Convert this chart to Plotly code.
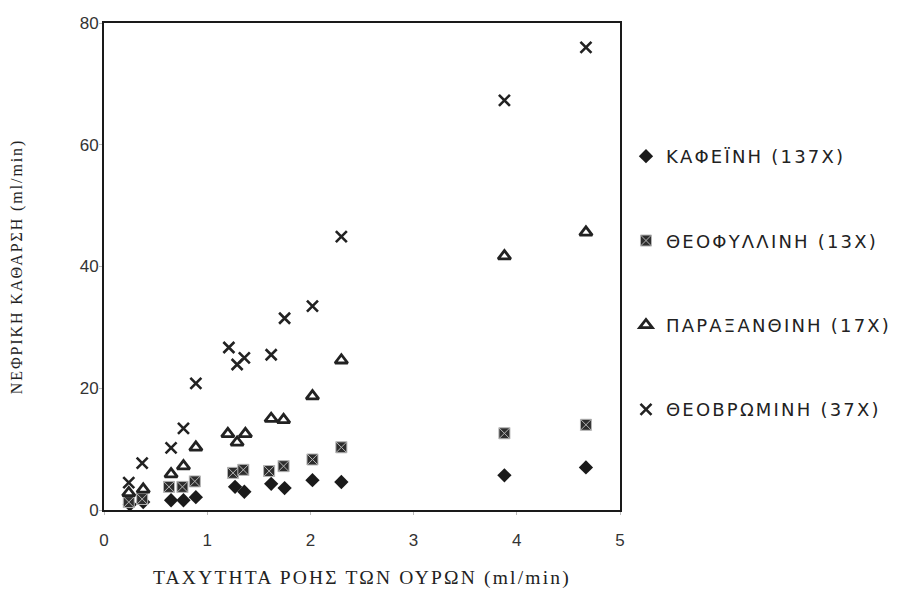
import plotly.graph_objects as go

# Urine flow rate (ml/min) and renal clearance (ml/min) for each series
x_caf = [0.25, 0.38, 0.65, 0.77, 0.89, 1.27, 1.36, 1.62, 1.75, 2.02, 2.30, 3.88, 4.67]
y_caf = [0.9, 1.3, 1.6, 1.6, 2.1, 3.8, 3.0, 4.3, 3.6, 4.9, 4.6, 5.7, 7.0]

x_theoph = [0.24, 0.37, 0.63, 0.76, 0.88, 1.25, 1.35, 1.60, 1.74, 2.02, 2.30, 3.88, 4.67]
y_theoph = [1.3, 1.8, 3.8, 3.8, 4.7, 6.1, 6.6, 6.4, 7.2, 8.3, 10.3, 12.6, 14.0]

x_parax = [0.24, 0.38, 0.65, 0.77, 0.89, 1.20, 1.29, 1.37, 1.62, 1.74, 2.02, 2.30, 3.88, 4.67]
y_parax = [2.8, 3.4, 5.9, 7.2, 10.3, 12.5, 11.1, 12.5, 15.0, 14.8, 18.7, 24.6, 41.7, 45.6]

x_theobr = [0.24, 0.37, 0.65, 0.77, 0.89, 1.21, 1.29, 1.36, 1.62, 1.75, 2.02, 2.30, 3.88, 4.67]
y_theobr = [4.5, 7.7, 10.2, 13.4, 20.8, 26.7, 23.9, 25.0, 25.5, 31.5, 33.5, 44.9, 67.3, 76.0]

names = ["ΚΑΦΕΪΝΗ (137X)", "ΘΕΟΦΥΛΛΙΝΗ (13X)", "ΠΑΡΑΞΑΝΘΙΝΗ (17X)", "ΘΕΟΒΡΩΜΙΝΗ (37X)"]

x_ticks = [0, 1, 2, 3, 4, 5]
y_ticks = [0, 20, 40, 60, 80]

fig = go.Figure()
fig.add_trace(go.Scatter(
    x=x_caf, y=y_caf, mode="markers", name=names[0], legendgroup="a",
    marker=dict(symbol="diamond", size=11, color="#1a1a1a", line=dict(width=0))))
fig.add_trace(go.Scatter(
    x=x_theoph, y=y_theoph, mode="markers", name=names[1], legendgroup="b",
    marker=dict(symbol="square-x", size=11, color="#2e2e2e",
                line=dict(width=1, color="#b5b5b5"))))
fig.add_trace(go.Scatter(
    x=x_parax, y=y_parax, mode="markers", name=names[2], legendgroup="c",
    marker=dict(symbol="triangle-up-open", size=11, color="#222222",
                line=dict(width=2.8, color="#222222"))))
fig.add_trace(go.Scatter(
    x=x_theobr, y=y_theobr, mode="markers", name=names[3], legendgroup="d",
    marker=dict(symbol="x-thin-open", size=11, color="#222222",
                line=dict(width=2.6, color="#222222"))))

fig.update_layout(
    width=900, height=581,
    margin=dict(l=96, r=288, t=15, b=79),
    paper_bgcolor="white", plot_bgcolor="white",
    font=dict(family="Liberation Sans, Arial, sans-serif", size=17, color="#333333"),
    legend=dict(x=1.0116, y=0.764, xanchor="left", yanchor="top",
                font=dict(family="DejaVu Sans, Verdana, sans-serif", size=18, color="#222222"),
                tracegroupgap=58, itemwidth=30, bgcolor="rgba(0,0,0,0)"),
    showlegend=True,
)
fig.update_xaxes(
    range=[0, 5], tickvals=x_ticks, ticktext=[str(v) for v in x_ticks],
    showgrid=False, zeroline=False, showline=True, linecolor="#1a1a1a", linewidth=2,
    mirror=True, ticks="outside", ticklen=3, tickcolor="#bbbbbb",
    ticklabelstandoff=11, automargin=False,
    title=dict(text="ΤΑΧΥΤΗΤΑ ΡΟΗΣ ΤΩΝ ΟΥΡΩΝ (ml/min)",
               font=dict(family="Liberation Serif, Times New Roman, serif", size=19.5, color="#222222"),
               standoff=22),
)
fig.update_yaxes(
    range=[0, 80], tickvals=y_ticks, ticktext=[str(v) for v in y_ticks],
    showgrid=False, zeroline=False, showline=True, linecolor="#1a1a1a", linewidth=2,
    mirror=True, ticks="outside", ticklen=3, tickcolor="#bbbbbb",
    ticklabelstandoff=-3, automargin=False,
    title=dict(text="ΝΕΦΡΙΚΗ ΚΑΘΑΡΣΗ (ml/min)",
               font=dict(family="Liberation Serif, Times New Roman, serif", size=16, color="#222222"),
               standoff=55),
)

spacing_js = """
var gd = document.getElementById('{plot_id}');
gd.querySelectorAll('.xtitle').forEach(function(e){ e.style.letterSpacing = '2.2px'; });
gd.querySelectorAll('.ytitle').forEach(function(e){ e.style.letterSpacing = '1.9px'; });
gd.querySelectorAll('.legendtext').forEach(function(e){ e.style.letterSpacing = '2.2px'; });
gd.querySelectorAll('.legend [clip-path]').forEach(function(e){ e.removeAttribute('clip-path'); });
gd.querySelectorAll('.legend').forEach(function(e){ e.removeAttribute('clip-path'); });
"""

fig.write_html("out.html", post_script=spacing_js)
